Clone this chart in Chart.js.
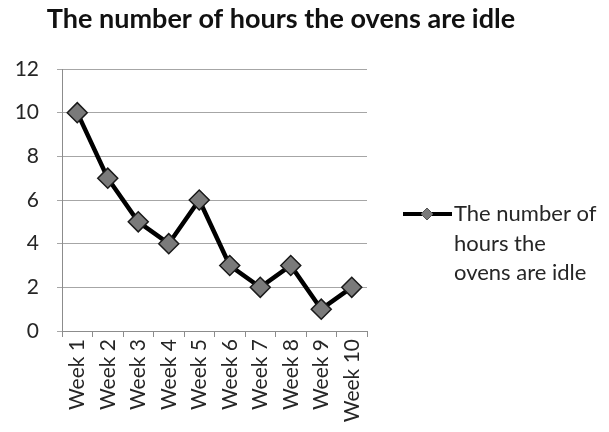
<!DOCTYPE html>
<html>
<head>
<meta charset="utf-8">
<script src="https://cdn.jsdelivr.net/npm/chart.js@4/dist/chart.umd.min.js"></script>
<style>
html,body{margin:0;padding:0;background:#fff;}
#wrap{width:609px;height:432px;position:relative;}
</style>
</head>
<body>
<div id="wrap"><canvas id="c" width="609" height="432"></canvas></div>
<script>
const chartTitle = "The number of hours the ovens are idle";
const categories = ["Week 1","Week 2","Week 3","Week 4","Week 5","Week 6","Week 7","Week 8","Week 9","Week 10"];
const idleHours = [10,7,5,4,6,3,2,3,1,2];
const seriesName = "The number of hours the ovens are idle";
const legendLines = ["The number of","hours the","ovens are idle"];
const yTicks = [0,2,4,6,8,10,12];

const FONT = "Lato, 'Open Sans', sans-serif";
const TEXT = "#262626";

const overlay = {
  id: 'overlay',
  afterDraw(chart) {
    const ctx = chart.ctx;
    ctx.save();
    // title
    ctx.fillStyle = "#111";
    ctx.font = "bold 27px " + FONT;
    ctx.textAlign = "center";
    ctx.textBaseline = "middle";
    ctx.fillText(chartTitle, 281, 19);
    // legend
    const ds = chart.data.datasets[0];
    const ly = 214;
    ctx.strokeStyle = ds.borderColor;
    ctx.lineWidth = 4;
    ctx.beginPath();
    ctx.moveTo(403, ly);
    ctx.lineTo(452, ly);
    ctx.stroke();
    const r = 6;
    ctx.beginPath();
    ctx.moveTo(427 - r, ly); ctx.lineTo(427, ly - r); ctx.lineTo(427 + r, ly); ctx.lineTo(427, ly + r);
    ctx.closePath();
    ctx.fillStyle = ds.pointBackgroundColor;
    ctx.fill();
    ctx.lineWidth = 1;
    ctx.strokeStyle = "#555";
    ctx.stroke();
    ctx.fillStyle = TEXT;
    ctx.font = "22px " + FONT;
    ctx.textAlign = "left";
    legendLines.forEach((t, i) => ctx.fillText(t, 454, ly + i * 29.5));
    ctx.restore();
  }
};

new Chart(document.getElementById('c'), {
  type: 'line',
  data: {
    labels: categories,
    datasets: [{
      label: seriesName,
      data: idleHours,
      borderColor: '#000000',
      borderWidth: 4.5,
      tension: 0,
      pointStyle: 'rectRot',
      pointRadius: 10,
      pointHoverRadius: 10,
      pointBackgroundColor: '#7a7a7a',
      pointBorderColor: '#1a1a1a',
      pointBorderWidth: 1.5
    }]
  },
  options: {
    responsive: false,
    animation: false,
    events: [],
    layout: { padding: { left: 0, right: 242, top: 69, bottom: 0 } },
    plugins: { legend: { display: false }, title: { display: false }, tooltip: { enabled: false } },
    scales: {
      x: {
        offset: true,
        grid: { display: true, drawOnChartArea: false, drawTicks: true, tickLength: 6, offset: true, color: '#8c8c8c' },
        border: { display: true, color: '#8c8c8c', width: 1 },
        ticks: { color: TEXT, font: { family: FONT, size: 21 }, minRotation: 90, maxRotation: 90, padding: 2, autoSkip: false },
        afterFit(s) { s.height = 101; }
      },
      y: {
        min: 0, max: 12,
        afterBuildTicks(s) { s.ticks = yTicks.map(v => ({ value: v })); },
        grid: { color: '#a6a6a6', lineWidth: 1, tickLength: 5, drawTicks: true },
        border: { display: true, color: '#8c8c8c', width: 1 },
        ticks: { color: TEXT, font: { family: FONT, size: 21 }, padding: 18, stepSize: 2 },
        afterFit(s) { s.width = 62; }
      }
    }
  },
  plugins: [overlay]
});
</script>
</body>
</html>
